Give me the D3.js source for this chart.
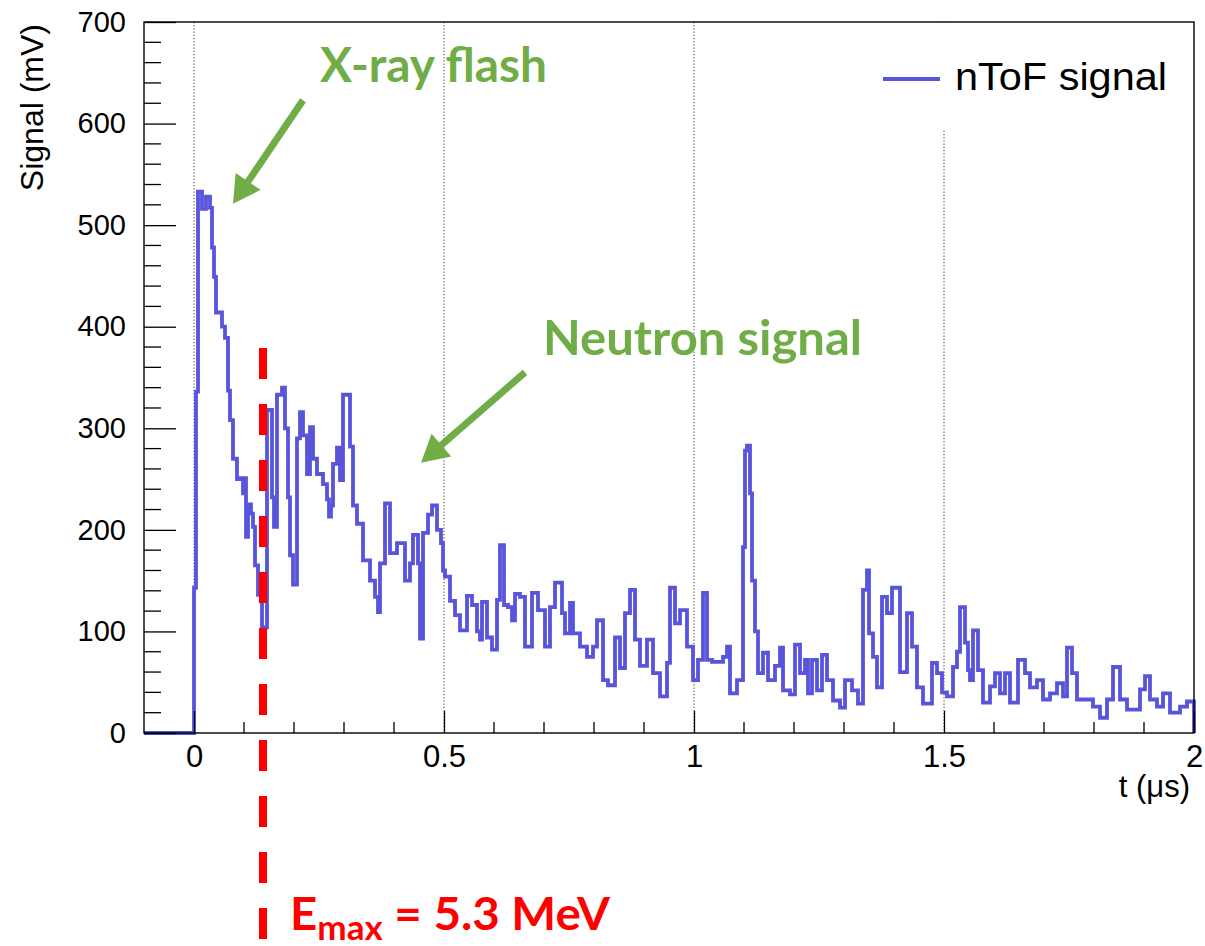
<!DOCTYPE html>
<html><head><meta charset="utf-8">
<script src="https://cdn.jsdelivr.net/npm/d3@7"></script>
<style>body{margin:0;background:#fff}svg{display:block}</style>
</head><body>
<svg id="chart" width="1205" height="946"></svg>
<script>
// ---- data ----
// nToF signal as [time (µs), signal (mV)] step points
const nToF = [
[-0.1,0],[0,143],[0.004,336],[0.008,533],[0.016,516],[0.024,528],[0.032,517],[0.036,478],[0.040,449],[0.044,414],
[0.056,400],[0.062,389],[0.068,337],[0.072,308],[0.078,270],[0.086,250],[0.092,251],[0.098,236],[0.100,251],[0.104,193],
[0.108,225],[0.114,216],[0.118,203],[0.122,165],[0.128,136],[0.136,104],[0.146,318],[0.156,232],[0.160,203],[0.166,333],
[0.176,340],[0.182,300],[0.188,232],[0.192,175],[0.198,146],[0.206,290],[0.212,316],[0.218,293],[0.226,255],[0.232,301],
[0.238,270],[0.246,255],[0.258,245],[0.266,230],[0.270,213],[0.274,224],[0.278,265],[0.286,281],[0.292,249],[0.298,333],
[0.312,282],[0.318,224],[0.326,206],[0.338,170],[0.352,150],[0.362,134],[0.368,119],[0.372,167],[0.382,226],[0.392,177],
[0.406,187],[0.422,150],[0.432,167],[0.438,195],[0.448,167],[0.452,93],[0.458,197],[0.468,215],[0.476,224],[0.486,200],
[0.494,187],[0.498,160],[0.502,154],[0.512,130],[0.522,116],[0.532,101],[0.546,135],[0.556,126],[0.566,100],[0.572,92],
[0.576,129],[0.586,94],[0.596,82],[0.606,131],[0.612,185],[0.620,126],[0.628,124],[0.636,111],[0.642,137],[0.652,134],
[0.662,85],[0.676,138],[0.688,121],[0.702,85],[0.712,124],[0.722,148],[0.736,118],[0.742,98],[0.752,128],[0.758,98],
[0.772,85],[0.786,75],[0.798,85],[0.806,111],[0.818,52],[0.828,47],[0.842,94],[0.852,64],[0.862,118],[0.872,141],
[0.882,92],[0.892,66],[0.906,92],[0.918,59],[0.932,36],[0.946,69],[0.952,143],[0.962,108],[0.972,121],[0.986,85],
[0.998,52],[1.008,72],[1.018,138],[1.026,72],[1.036,70],[1.058,75],[1.066,85],[1.072,39],[1.086,52],[1.098,183],
[1.102,278],[1.106,283],[1.112,236],[1.116,150],[1.122,100],[1.128,59],[1.138,79],[1.148,52],[1.162,66],[1.172,84],
[1.178,42],[1.192,38],[1.202,87],[1.212,59],[1.222,72],[1.228,39],[1.236,72],[1.246,42],[1.256,77],[1.266,52],
[1.278,32],[1.292,25],[1.302,52],[1.316,42],[1.328,29],[1.338,141],[1.346,160],[1.350,98],[1.358,75],[1.366,45],
[1.376,134],[1.386,118],[1.396,143],[1.412,60],[1.426,118],[1.436,85],[1.446,45],[1.458,29],[1.476,69],[1.486,59],
[1.496,40],[1.506,36],[1.518,65],[1.526,80],[1.532,124],[1.542,89],[1.548,62],[1.552,52],[1.558,101],[1.568,62],
[1.578,30],[1.592,46],[1.602,59],[1.612,39],[1.622,59],[1.632,30],[1.648,72],[1.662,59],[1.672,45],[1.686,52],
[1.698,33],[1.712,39],[1.726,49],[1.738,36],[1.746,84],[1.756,59],[1.766,33],[1.798,26],[1.812,15],[1.826,33],
[1.838,65],[1.852,33],[1.866,23],[1.892,43],[1.902,56],[1.912,33],[1.926,26],[1.938,39],[1.952,20],[1.972,26],
[1.986,31],[2.0,0]
];
const seriesName = "nToF signal";
const xDomain = [-0.1, 2];
const yDomain = [0, 700];
const xTicks = [0, 0.5, 1, 1.5, 2];
const xTickLabels = ["0", "0.5", "1", "1.5", "2"];
const xMinorTicks = [0.1,0.2,0.3,0.4,0.6,0.7,0.8,0.9,1.1,1.2,1.3,1.4,1.6,1.7,1.8,1.9];
const yTicks = [0, 100, 200, 300, 400, 500, 600, 700];
const yTickLabels = ["0", "100", "200", "300", "400", "500", "600", "700"];
const yMinorTicks = d3.range(20, 700, 20).filter(v => v % 100 !== 0);
const gridX = [0, 0.5, 1, 1.5];
const xTitle = "t (\u03bcs)";
const yTitle = "Signal (mV)";
// annotations (data coordinates)
const xrayLabel = {text: "X-ray flash", t: 0.252, v: 641};
const xrayArrow = {from: [0.218, 623], to: [0.078, 521]};
const neutronLabel = {text: "Neutron signal", t: 0.698, v: 372};
const neutronArrow = {from: [0.662, 355], to: [0.454, 266]};
const emaxLine = {t: 0.138, v0: 379, v1: -204};
const emaxLabel = {t: 0.192, v: -194, main: "E", sub: "max", rest: " = 5.3 MeV"};

// ---- drawing ----
const svg = d3.select("#chart");
const x = d3.scaleLinear().domain(xDomain).range([144, 1194]);
const y = d3.scaleLinear().domain(yDomain).range([733, 22]);
const blue = "#5854dc", green = "#70ad47", red = "#ff0000";
const axisFont = "'Liberation Sans', Arial, Helvetica, sans-serif";
const annFont = "Lato, 'Open Sans', sans-serif";

// grid
svg.append("g").selectAll("line").data(gridX).join("line")
  .attr("x1", d => x(d)).attr("x2", d => x(d))
  .attr("y1", y(700)).attr("y2", y(0))
  .attr("stroke", "#333").attr("stroke-width", 1).attr("stroke-dasharray", "1.2,2");

// signal
const line = d3.line().x(d => x(d[0])).y(d => y(d[1])).curve(d3.curveStepAfter);
svg.append("path").datum(nToF).attr("d", line)
  .attr("fill", "none").attr("stroke", blue).attr("stroke-width", 3.8)
  .attr("stroke-linejoin", "miter");

// legend box (white, hides grid)
svg.append("rect").attr("x", 868).attr("y", 23).attr("width", 323).attr("height", 108).attr("fill", "#fff");
svg.append("line").attr("x1", 883).attr("x2", 940).attr("y1", 79).attr("y2", 79)
  .attr("stroke", blue).attr("stroke-width", 3.8);
svg.append("text").attr("x", 955).attr("y", 90).text(seriesName)
  .attr("font-family", axisFont).attr("font-size", 38).attr("fill", "#000")
  .attr("textLength", 212).attr("lengthAdjust", "spacingAndGlyphs");

// axes
const yAxis = d3.axisLeft(y).tickValues(yTicks).tickFormat((d, i) => yTickLabels[i])
  .tickSizeInner(-32).tickSizeOuter(0).tickPadding(18);
const gy = svg.append("g").attr("transform", `translate(${x(-0.1)},0)`).call(yAxis);
gy.select(".domain").remove();
gy.selectAll("text").attr("font-family", axisFont).attr("font-size", 29).attr("fill", "#000");
gy.selectAll("line").attr("stroke", "#000").attr("stroke-width", 1.3);
svg.append("g").selectAll("line").data(yMinorTicks).join("line")
  .attr("x1", x(-0.1)).attr("x2", x(-0.1) + 17).attr("y1", d => y(d)).attr("y2", d => y(d))
  .attr("stroke", "#000").attr("stroke-width", 1.3);

const xAxis = d3.axisBottom(x).tickValues(xTicks).tickFormat((d, i) => xTickLabels[i])
  .tickSizeInner(-22).tickSizeOuter(0).tickPadding(12);
const gx = svg.append("g").attr("transform", `translate(0,${y(0)})`).call(xAxis);
gx.select(".domain").remove();
gx.selectAll("text").attr("font-family", axisFont).attr("font-size", 31).attr("fill", "#000");
gx.selectAll("line").attr("stroke", "#000").attr("stroke-width", 1.3);
svg.append("g").selectAll("line").data(xMinorTicks).join("line")
  .attr("x1", d => x(d)).attr("x2", d => x(d)).attr("y1", y(0)).attr("y2", y(0) - 11)
  .attr("stroke", "#000").attr("stroke-width", 1.3);

// frame
svg.append("rect").attr("x", x(-0.1)).attr("y", y(700))
  .attr("width", x(2) - x(-0.1)).attr("height", y(0) - y(700))
  .attr("fill", "none").attr("stroke", "#000").attr("stroke-width", 1.4);

// titles
svg.append("text").attr("x", 1190).attr("y", 797).attr("text-anchor", "end").text(xTitle)
  .attr("font-family", axisFont).attr("font-size", 31).attr("fill", "#000");
svg.append("text").attr("transform", "translate(43,24) rotate(-90)").attr("text-anchor", "end")
  .text(yTitle).attr("font-family", axisFont).attr("font-size", 32).attr("fill", "#000");

// annotations
function arrow(a, color) {
  const sx = x(a.from[0]), sy = y(a.from[1]), px = x(a.to[0]), py = y(a.to[1]);
  const dx = px - sx, dy = py - sy, len = Math.hypot(dx, dy);
  const ux = dx / len, uy = dy / len, nx = -uy, ny = ux;
  const L = 27, W = 15;
  const bx = px - ux * L, by = py - uy * L;
  svg.append("line").attr("x1", sx).attr("y1", sy).attr("x2", bx + ux * 2).attr("y2", by + uy * 2)
    .attr("stroke", color).attr("stroke-width", 7);
  svg.append("path").attr("d", `M${px},${py}L${bx + nx * W},${by + ny * W}L${bx - nx * W},${by - ny * W}Z`)
    .attr("fill", color);
}
arrow(xrayArrow, green);
arrow(neutronArrow, green);

svg.append("text").attr("x", x(xrayLabel.t)).attr("y", y(xrayLabel.v)).text(xrayLabel.text)
  .attr("font-family", annFont).attr("font-weight", 700).attr("font-size", 48).attr("fill", green)
  .attr("textLength", 227).attr("lengthAdjust", "spacingAndGlyphs");
svg.append("text").attr("x", x(neutronLabel.t)).attr("y", y(neutronLabel.v)).text(neutronLabel.text)
  .attr("font-family", annFont).attr("font-weight", 700).attr("font-size", 48).attr("fill", green)
  .attr("textLength", 319).attr("lengthAdjust", "spacingAndGlyphs");

svg.append("line").attr("x1", x(emaxLine.t)).attr("x2", x(emaxLine.t))
  .attr("y1", y(emaxLine.v0)).attr("y2", y(emaxLine.v1))
  .attr("stroke", red).attr("stroke-width", 8).attr("stroke-dasharray", "31,25");
const et = svg.append("text").attr("x", x(emaxLabel.t)).attr("y", y(emaxLabel.v))
  .attr("font-family", annFont).attr("font-weight", 700).attr("font-size", 46).attr("fill", red)
  .attr("textLength", 320).attr("lengthAdjust", "spacingAndGlyphs");
et.append("tspan").text(emaxLabel.main);
et.append("tspan").text(emaxLabel.sub).attr("font-size", 34).attr("dy", 10);
et.append("tspan").text(emaxLabel.rest).attr("dy", -10);
</script>
</body></html>
